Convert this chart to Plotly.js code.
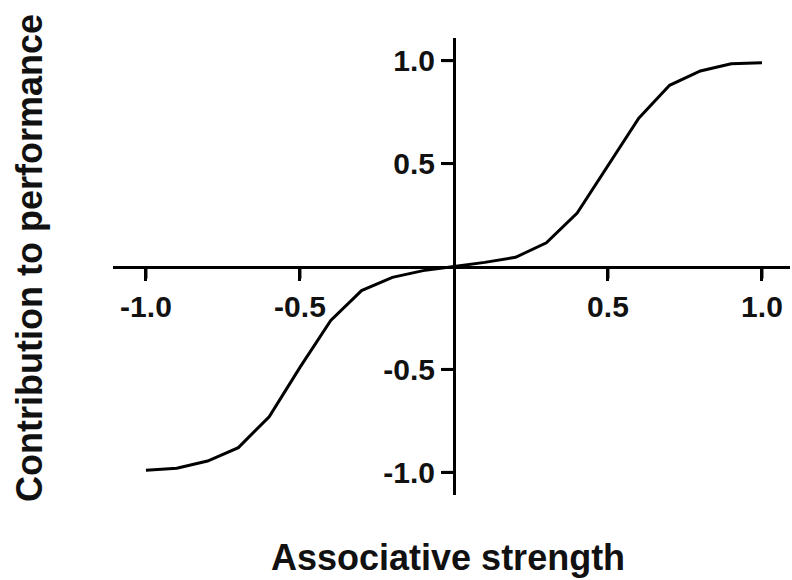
<!DOCTYPE html>
<html>
<head>
<meta charset="utf-8">
<script src="https://cdn.plot.ly/plotly-3.0.1.min.js"></script>
<style>html,body{margin:0;padding:0;background:#fff;}#chart{width:792px;height:580px;}</style>
</head>
<body>
<div id="chart"></div>
<script>
const associativeStrength = [-1.0, -0.9, -0.8, -0.7, -0.6, -0.5, -0.4, -0.3, -0.2, -0.1, 0.0, 0.1, 0.2, 0.3, 0.4, 0.5, 0.6, 0.7, 0.8, 0.9, 1.0];
const contribution = [-0.99, -0.98, -0.945, -0.88, -0.73, -0.49, -0.262, -0.117, -0.053, -0.02, 0.0, 0.02, 0.045, 0.115, 0.26, 0.49, 0.72, 0.88, 0.95, 0.985, 0.99];
const tickValues = [-1.0, -0.5, 0.5, 1.0];
const tickLabels = ['-1.0', '-0.5', '0.5', '1.0'];
const xTitle = 'Associative strength';
const yTitle = 'Contribution to performance';

const fontFamily = '"Liberation Sans", Arial, sans-serif';
const xRange = [-1.107, 1.091];
const yRange = [-1.11, 1.11];
const tickLenPx = 12;

const trace = {
  x: associativeStrength,
  y: contribution,
  type: 'scatter',
  mode: 'lines',
  line: {color: '#000', width: 3},
  hoverinfo: 'skip'
};

const axisCommon = {
  showgrid: false,
  zeroline: false,
  showline: true,
  linecolor: '#000',
  linewidth: 3,
  ticks: 'outside',
  ticklen: tickLenPx,
  tickwidth: 3,
  tickcolor: '#000',
  tickvals: tickValues,
  ticktext: tickLabels,
  tickfont: {family: fontFamily, size: 30, color: '#111', weight: 'bold'},
  fixedrange: true
};

// tick marks on the axes crossing at the origin, placed through the data scales
const tickShapes = [];
tickValues.forEach(function (v) {
  tickShapes.push({type: 'line', layer: 'above', xref: 'x', yref: 'y', x0: v, x1: v,
    ysizemode: 'pixel', yanchor: 0, y0: 0, y1: -tickLenPx, line: {color: '#000', width: 3}});
  tickShapes.push({type: 'line', layer: 'above', xref: 'x', yref: 'y', y0: v, y1: v,
    xsizemode: 'pixel', xanchor: 0, x0: 0, x1: -tickLenPx, line: {color: '#000', width: 3}});
});

const layout = {
  width: 792,
  height: 580,
  margin: {l: 113, r: 2, t: 38, b: 85},
  paper_bgcolor: '#fff',
  plot_bgcolor: '#fff',
  showlegend: false,
  xaxis: Object.assign({}, axisCommon, {
    range: xRange,
    anchor: 'free',
    position: (0 - yRange[0]) / (yRange[1] - yRange[0]),
    side: 'bottom'
  }),
  yaxis: Object.assign({}, axisCommon, {
    range: yRange,
    anchor: 'free',
    position: (0 - xRange[0]) / (xRange[1] - xRange[0]),
    side: 'left'
  }),
  shapes: tickShapes,
  annotations: [
    {text: xTitle, xref: 'paper', yref: 'paper', x: 0.495, y: -0.136, xanchor: 'center', yanchor: 'middle',
     showarrow: false, font: {family: fontFamily, size: 36, color: '#111', weight: 'bold'}},
    {text: yTitle, xref: 'paper', yref: 'paper', x: -0.1226, y: 0.5186, xanchor: 'center', yanchor: 'middle',
     textangle: -90, showarrow: false, font: {family: fontFamily, size: 36, color: '#111', weight: 'bold'}}
  ]
};

Plotly.newPlot('chart', [trace], layout, {displayModeBar: false, staticPlot: true});
</script>
</body>
</html>
